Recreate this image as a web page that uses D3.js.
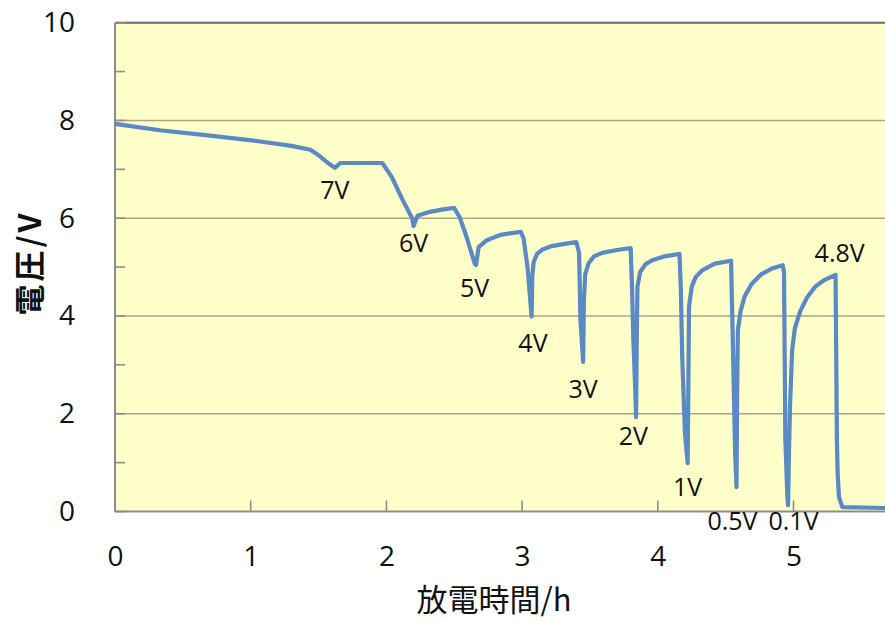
<!DOCTYPE html>
<meta charset="utf-8">
<head>
    <script src="https://d3js.org/d3.v7.min.js"></script>
    <style>
        body { margin: 0; background: #fff; }
        text { font-family: "Open Sans", "Noto Sans CJK JP", sans-serif; fill: #111; }
    </style>
</head>
<body>
<div id="my_dataviz"></div>
</body>

<script>

    // discharge time (h) and voltage (V)
    var timeH = [0, 0.33, 0.70, 1.07, 1.30, 1.44, 1.50, 1.56, 1.62, 1.66, 1.97,
        2.04, 2.12, 2.19, 2.20, 2.23, 2.32, 2.42, 2.50,
        2.54, 2.59, 2.65, 2.66, 2.68, 2.74, 2.84, 2.99,
        3.01, 3.04, 3.07, 3.075, 3.085, 3.11, 3.15, 3.22, 3.30, 3.40,
        3.42, 3.43, 3.45, 3.455, 3.465, 3.49, 3.53, 3.59, 3.70, 3.80,
        3.81, 3.82, 3.835, 3.84, 3.845, 3.85, 3.87, 3.91, 3.96, 4.05, 4.16,
        4.17, 4.18, 4.20, 4.22, 4.225, 4.23, 4.25, 4.28, 4.33, 4.42, 4.54,
        4.55, 4.57, 4.58, 4.585, 4.59, 4.61, 4.64, 4.69, 4.76, 4.84, 4.92,
        4.93, 4.94, 4.955, 4.96, 4.965, 4.975, 4.99, 5.01, 5.05, 5.10, 5.16, 5.23, 5.31,
        5.32, 5.325, 5.335, 5.36, 5.70];
    var voltage = [7.93, 7.80, 7.69, 7.57, 7.48, 7.40, 7.29, 7.15, 7.03, 7.13, 7.13,
        6.84, 6.37, 6.00, 5.84, 6.05, 6.13, 6.18, 6.21,
        6.02, 5.62, 5.08, 5.04, 5.41, 5.55, 5.66, 5.72,
        5.60, 5.00, 3.99, 4.80, 5.10, 5.27, 5.36, 5.43, 5.47, 5.51,
        5.29, 3.92, 3.06, 4.30, 4.85, 5.08, 5.22, 5.29, 5.35, 5.39,
        4.60, 3.51, 2.40, 1.93, 3.50, 4.60, 4.90, 5.06, 5.14, 5.22, 5.27,
        4.53, 3.16, 1.60, 0.99, 2.50, 4.19, 4.60, 4.80, 4.94, 5.07, 5.13,
        3.85, 1.20, 0.50, 2.50, 3.71, 4.10, 4.40, 4.65, 4.85, 4.97, 5.04,
        4.90, 1.46, 0.30, 0.13, 1.00, 2.20, 3.30, 3.75, 4.10, 4.38, 4.60, 4.74, 4.84,
        1.46, 0.80, 0.30, 0.09, 0.07];

    // annotations: text and anchor (h, V)
    var noteText = ["7V", "6V", "5V", "4V", "3V", "2V", "1V", "0.5V", "0.1V", "4.8V"];
    var noteTime = [1.62, 2.20, 2.65, 3.08, 3.45, 3.82, 4.22, 4.55, 5.00, 5.34];
    var noteVolt = [6.58, 5.49, 4.57, 3.45, 2.51, 1.54, 0.50, -0.19, -0.19, 5.29];

    var xTicks = [0, 1, 2, 3, 4, 5];
    var yTicks = [0, 2, 4, 6, 8, 10];
    var yMinor = [1, 3, 5, 7, 9];

    var W = 885, H = 621;
    var plotLeft = 115, plotTop = 22.7, plotBottom = 511.5;

    var svg = d3.select("#my_dataviz")
        .append("svg")
        .attr("width", W)
        .attr("height", H);

    var x = d3.scaleLinear().domain([0, 6]).range([plotLeft, plotLeft + 6 * 135.7]);
    var y = d3.scaleLinear().domain([0, 10]).range([plotBottom, plotTop]);

    // plot background
    svg.append("rect")
        .attr("x", x(0)).attr("y", y(10))
        .attr("width", x(6) - x(0)).attr("height", y(0) - y(10))
        .attr("fill", "#FFFFC9");

    // gridlines
    svg.append("g").selectAll("line")
        .data(yTicks.filter(function(d) { return d > 0 && d < 10; }))
        .enter().append("line")
        .attr("x1", x(0)).attr("x2", x(6))
        .attr("y1", function(d) { return y(d); })
        .attr("y2", function(d) { return y(d); })
        .attr("stroke", "#A9A58D").attr("stroke-width", 1.6);

    // top border
    svg.append("line")
        .attr("x1", x(0)).attr("x2", x(6))
        .attr("y1", y(10)).attr("y2", y(10))
        .attr("stroke", "#666").attr("stroke-width", 2);

    // inward ticks
    svg.append("g").selectAll("line")
        .data(yTicks.concat(yMinor))
        .enter().append("line")
        .attr("x1", x(0)).attr("x2", x(0) + 10)
        .attr("y1", function(d) { return y(d); })
        .attr("y2", function(d) { return y(d); })
        .attr("stroke", "#8c8c8c").attr("stroke-width", 1.6);
    svg.append("g").selectAll("line")
        .data(xTicks.concat([6]))
        .enter().append("line")
        .attr("x1", function(d) { return x(d); })
        .attr("x2", function(d) { return x(d); })
        .attr("y1", y(0)).attr("y2", y(0) - 11)
        .attr("stroke", "#8c8c8c").attr("stroke-width", 1.6);

    // axis lines
    svg.append("line")
        .attr("x1", x(0)).attr("x2", x(0))
        .attr("y1", y(10)).attr("y2", y(0))
        .attr("stroke", "#8c8c8c").attr("stroke-width", 2);
    svg.append("line")
        .attr("x1", x(0)).attr("x2", x(6))
        .attr("y1", y(0)).attr("y2", y(0))
        .attr("stroke", "#8c8c8c").attr("stroke-width", 2);

    // tick labels via axes
    var yAxis = svg.append("g")
        .attr("transform", "translate(" + x(0) + ",0)")
        .call(d3.axisLeft(y).tickValues(yTicks).tickSize(0).tickPadding(40).tickFormat(d3.format("d")));
    var xAxis = svg.append("g")
        .attr("transform", "translate(0," + y(0) + ")")
        .call(d3.axisBottom(x).tickValues(xTicks).tickSize(0).tickPadding(35).tickFormat(d3.format("d")));
    [yAxis, xAxis].forEach(function(a) {
        a.select(".domain").remove();
        a.selectAll("text")
            .style("font-family", "'Open Sans', sans-serif")
            .style("font-size", "28px")
            .attr("fill", "#111");
    });

    // the curve
    var pts = timeH.map(function(t, i) { return [t, voltage[i]]; });
    svg.append("path")
        .datum(pts)
        .attr("fill", "none")
        .attr("stroke", "#5A89C4")
        .attr("stroke-width", 4.2)
        .attr("stroke-linejoin", "round")
        .attr("d", d3.line()
            .x(function(d) { return x(d[0]); })
            .y(function(d) { return y(d[1]); }));

    // voltage notes
    svg.append("g").selectAll("text")
        .data(noteText)
        .enter().append("text")
        .attr("x", function(d, i) { return x(noteTime[i]); })
        .attr("y", function(d, i) { return y(noteVolt[i]); })
        .attr("dy", "0.36em")
        .attr("text-anchor", "middle")
        .style("font-size", "25px")
        .text(function(d) { return d; });

    // axis titles
    svg.append("text")
        .attr("x", 494).attr("y", 600)
        .attr("dy", "0.36em")
        .attr("text-anchor", "middle")
        .style("font-family", "'Noto Sans CJK JP', sans-serif")
        .style("font-size", "31px")
        .text("放電時間/h");
    svg.append("text")
        .attr("transform", "translate(30,263) rotate(-90)")
        .attr("dy", "0.36em")
        .attr("text-anchor", "middle")
        .style("font-family", "'Noto Sans CJK JP', sans-serif")
        .style("font-size", "31px")
        .style("font-weight", "bold")
        .style("letter-spacing", "3px")
        .text("電圧/V");

</script>
